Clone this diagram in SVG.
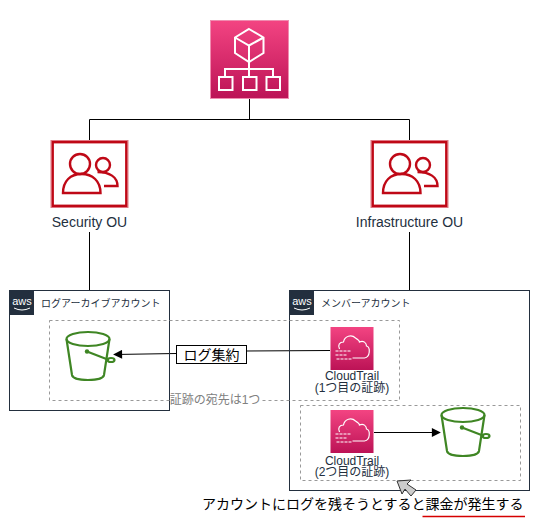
<svg xmlns="http://www.w3.org/2000/svg" width="538" height="531" viewBox="0 0 538 531">
<style>
text{font-family:"Liberation Sans","Noto Sans CJK JP",sans-serif}
.lbl{font-size:14px;fill:#232f3e;text-anchor:middle}
.ct{font-size:12px;fill:#232f3e;text-anchor:middle}
.acc{font-size:10px;fill:#232f3e}
.ln{fill:none;stroke:#000;stroke-width:1}
.box{fill:none;stroke:#232f3e;stroke-width:1}
.dash{fill:none;stroke:#999;stroke-width:1;stroke-dasharray:3 3}
.w{fill:none;stroke:#fff;stroke-width:2}
.r{fill:none;stroke:#bf0816;stroke-width:2.400}
.g{fill:none;stroke:#3f8624;stroke-width:2.200}
</style>
<defs>
<linearGradient id="pink" x1="0" y1="0" x2="0" y2="1"><stop offset="0" stop-color="#f34482"/><stop offset="1" stop-color="#bc1356"/></linearGradient>
<marker id="arr" viewBox="0 0 10 10" refX="9" refY="5" markerWidth="10" markerHeight="9" markerUnits="userSpaceOnUse" orient="auto"><path d="M0 0L10 5L0 10Z" fill="#000"/></marker>
<g id="aws"><rect width="24" height="24" fill="#232f3e"/><text x="12" y="14" font-size="11" fill="#fff" text-anchor="middle">aws</text><path d="M4 17Q12 21 20 17" fill="none" stroke="#fff" stroke-width="1"/></g>
<g id="ou"><rect x="0.500" y="0.500" width="77" height="67" fill="#fff" stroke="#e07884"/><rect x="2.200" y="2.200" width="73.600" height="63.600" fill="none" stroke="#bf0816" stroke-width="2.400"/><circle cx="29.500" cy="24" r="10" class="r"/><path d="M12.500 53C12.500 41 20 34 31 34C42 34 50 41 50 53Z" class="r"/><circle cx="52.500" cy="25" r="7" class="r"/><path d="M47 32C59 32 67 37 67 46H53.500" class="r"/></g>
<g id="bucket"><ellipse cx="23" cy="8" rx="21.500" ry="7" class="g"/><path d="M1.500 8L7 44Q8 49 23 49Q38 49 39 44L44.500 8" class="g"/><circle cx="22" cy="20.500" r="2.200" fill="#3f8624"/><path d="M22 20.500L44 29" class="g"/><ellipse cx="46" cy="29" rx="3.500" ry="2" class="g"/></g>
<g id="ctIcon"><rect width="43" height="43" fill="url(#pink)"/><path d="M9 22C7 18 9 15 13 15C14 9 21 7 25 11C28 13 29 14 29 15C33 13 36 16 36 19C40 20 40 30 34 31H22" fill="none" stroke="#fff" stroke-width="1.200"/><path d="M5 24H21M5 28H17M6 32H21" fill="none" stroke="#fff" stroke-width="1.200" stroke-dasharray="3 1"/></g>
</defs>
<g id="connectors">
<path class="ln" d="M249.500 99V119.500M89.500 119.500H409.500M89.500 119.500V140M409.500 119.500V140M89.500 232V290M409.500 232V290"/>
<path class="ln" d="M330 350.500L246 351"/>
<path class="ln" d="M176 353.500L114 354.500" marker-end="url(#arr)"/>
<path class="ln" d="M374 432.500H440" marker-end="url(#arr)"/>
</g>
<g id="org-root"><rect x="210.500" y="20.500" width="78" height="78" fill="url(#pink)" stroke="#f08cb0"/>
<path class="w" d="M249 29L263.500 37.500V53L249 62L235 53V37.500ZM235 37.500L249 45.500L263.500 37.500M249 45.500V62M249 62V77M225 77V69H273V77"/>
<rect x="219" y="77" width="13.500" height="13" class="w"/><rect x="243" y="77" width="13.500" height="13" class="w"/><rect x="266.500" y="77" width="13.500" height="13" class="w"/></g>
<g id="security-ou"><use href="#ou" x="50.500" y="140"/><text class="lbl" x="89.500" y="227">Security OU</text></g>
<g id="infrastructure-ou"><use href="#ou" x="370.500" y="140"/><text class="lbl" x="409.500" y="227">Infrastructure OU</text></g>
<g id="log-account"><rect class="box" x="9.500" y="290.500" width="160" height="120"/><use href="#aws" x="10" y="291"/><text class="acc" x="41" y="307">ログアーカイブアカウント</text></g>
<g id="member-account"><rect class="box" x="289.500" y="290.500" width="240" height="200"/><use href="#aws" x="290" y="291"/><text class="acc" x="321" y="307">メンバーアカウント</text></g>
<g id="trail-group-1"><rect class="dash" x="49.500" y="320.500" width="350" height="80"/><rect x="170" y="392" width="90" height="16" fill="#fff"/><text x="215" y="404" font-size="12" fill="#808080" text-anchor="middle">証跡の宛先は1つ</text></g>
<g id="trail-group-2"><rect class="dash" x="300.500" y="405.500" width="220" height="75"/></g>
<g id="bucket-1"><use href="#bucket" x="65" y="331"/></g>
<g id="log-label"><rect x="176.500" y="345.500" width="70" height="18" fill="#fff" stroke="#000"/><text x="211.500" y="360" font-size="14" fill="#000" text-anchor="middle">ログ集約</text></g>
<g id="cloudtrail-1"><use href="#ctIcon" x="330.500" y="327"/><text class="ct" x="352" y="380">CloudTrail</text><text class="ct" x="352" y="392">(1つ目の証跡)</text></g>
<g id="cloudtrail-2"><use href="#ctIcon" x="330.500" y="410"/><text class="ct" x="352" y="465">CloudTrail</text><text class="ct" x="352" y="476">(2つ目の証跡)</text></g>
<g id="bucket-2"><use href="#bucket" x="440" y="407"/></g>
<g id="note"><path d="M397 481L411 480L407 484L416 490L411 496L405 489L402 494Z" fill="#ccc" stroke="#333" stroke-width="1"/>
<text x="202" y="509" font-size="14" fill="#000">アカウントにログを残そうとすると課金が発生する</text>
<path d="M422.500 516.500H525" stroke="#d50000" stroke-width="1.500" fill="none"/></g>
</svg>
